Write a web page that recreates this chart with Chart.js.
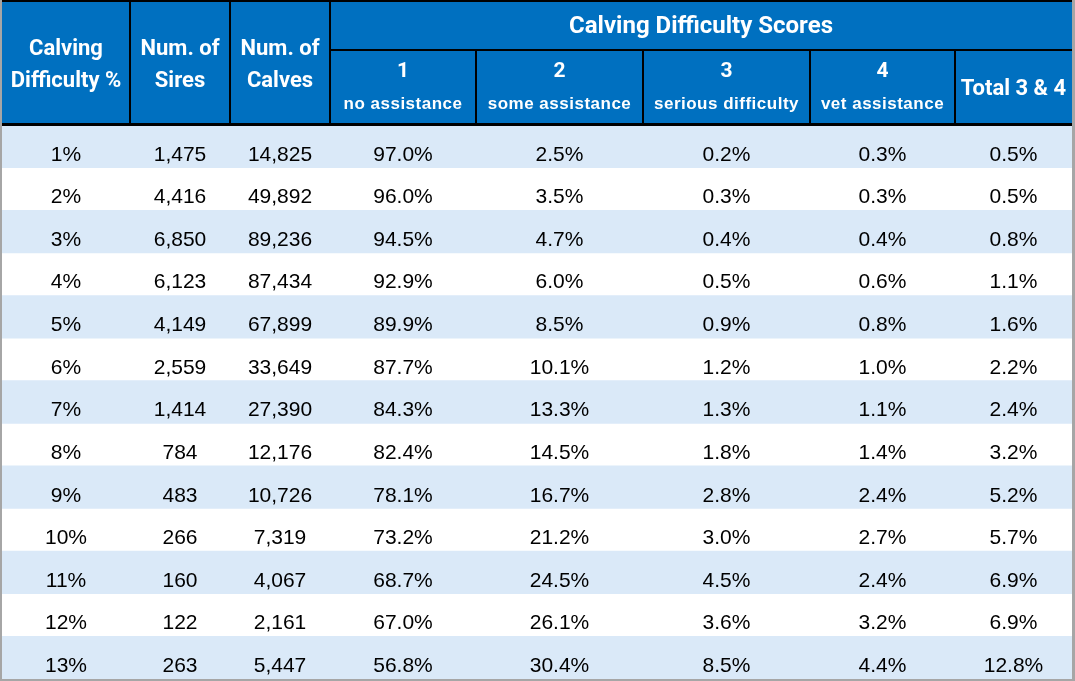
<!DOCTYPE html>
<html>
<head>
<meta charset="utf-8">
<script src="https://cdn.jsdelivr.net/npm/chart.js@4.4.1/dist/chart.umd.min.js"></script>
<style>
  html, body { margin: 0; padding: 0; background: #fff; }
  #wrap { width: 1075px; height: 681px; position: relative; }
</style>
</head>
<body>
<div id="wrap"><canvas id="tabla"></canvas></div>
<script>
// Datos de la tabla
const difficulty = ['1%', '2%', '3%', '4%', '5%', '6%', '7%', '8%', '9%', '10%', '11%', '12%', '13%'];
const sires = [1475, 4416, 6850, 6123, 4149, 2559, 1414, 784, 483, 266, 160, 122, 263];
const calves = [14825, 49892, 89236, 87434, 67899, 33649, 27390, 12176, 10726, 7319, 4067, 2161, 5447];
const score1 = [97.0, 96.0, 94.5, 92.9, 89.9, 87.7, 84.3, 82.4, 78.1, 73.2, 68.7, 67.0, 56.8];
const score2 = [2.5, 3.5, 4.7, 6.0, 8.5, 10.1, 13.3, 14.5, 16.7, 21.2, 24.5, 26.1, 30.4];
const score3 = [0.2, 0.3, 0.4, 0.5, 0.9, 1.2, 1.3, 1.8, 2.8, 3.0, 4.5, 3.6, 8.5];
const score4 = [0.3, 0.3, 0.4, 0.6, 0.8, 1.0, 1.1, 1.4, 2.4, 2.7, 2.4, 3.2, 4.4];
const total34 = [0.5, 0.5, 0.8, 1.1, 1.6, 2.2, 2.4, 3.2, 5.2, 5.7, 6.9, 6.9, 12.8];

// Textos de cabecera
const headerLeft = [['Calving', 'Difficulty %'], ['Num. of', 'Sires'], ['Num. of', 'Calves']];
const groupTitle = 'Calving Difficulty Scores';
const scoreCodes = ['1', '2', '3', '4'];
const scoreNames = ['no assistance', 'some assistance', 'serious difficulty', 'vet assistance'];
const totalLabel = 'Total 3 & 4';

// Anchos de columna (layout)
const colWidths = [128, 100, 100, 146, 167, 167, 145, 117];
const colEdges = colWidths.reduce((acc, w) => { acc.push(acc[acc.length - 1] + w); return acc; }, [0]);
const totalWidth = colEdges[colEdges.length - 1];

const HEADER_BLUE = '#0070C0';
const BAND_BLUE = '#DAE9F8';

const fmtInt = v => v.toLocaleString('en-US');
const fmtPct = v => v.toFixed(1) + '%';

const columns = [
    difficulty,
    sires.map(fmtInt),
    calves.map(fmtInt),
    score1.map(fmtPct),
    score2.map(fmtPct),
    score3.map(fmtPct),
    score4.map(fmtPct),
    total34.map(fmtPct)
];

// Plugin para fondo, cabecera y texto de las celdas
const tablaPlugin = {
    id: 'tabla',
    beforeDraw(chart) {
        const ctx = chart.ctx;
        const { width, height } = chart;
        ctx.save();
        ctx.fillStyle = '#A6A6A6';
        ctx.fillRect(0, 0, width, height);
        ctx.fillStyle = '#ffffff';
        ctx.fillRect(2, 0, width - 5, height - 2);
        ctx.restore();
    },
    afterDatasetsDraw(chart) {
        const ctx = chart.ctx;
        const x = chart.scales.x;
        const y = chart.scales.y;
        const area = chart.chartArea;
        const px = v => x.getPixelForValue(v);
        const center = c => px(colEdges[c] + colWidths[c] / 2);

        ctx.save();
        // fondo cabecera
        ctx.fillStyle = HEADER_BLUE;
        ctx.fillRect(area.left, 0, area.right - area.left, area.top);

        // lineas cabecera
        ctx.fillStyle = '#000000';
        ctx.fillRect(area.left, 0, area.right - area.left, 2);
        ctx.fillRect(area.left, area.top - 2, area.right - area.left, 3);
        ctx.fillRect(px(colEdges[3]) - 1, 49, area.right - px(colEdges[3]) + 1, 2);
        for (let c = 1; c < colEdges.length - 1; c++) {
            const top = c <= 3 ? 0 : 49;
            ctx.fillRect(px(colEdges[c]) - 1, top, 2, area.top - top + 1);
        }

        // textos cabecera
        ctx.fillStyle = '#ffffff';
        ctx.textAlign = 'center';
        ctx.textBaseline = 'alphabetic';
        ctx.font = 'bold 22px Roboto';
        headerLeft.forEach((lines, c) => {
            ctx.fillText(lines[0], center(c), 55);
            ctx.fillText(lines[1], center(c), 87);
        });
        ctx.font = 'bold 24px Roboto';
        ctx.fillText(groupTitle, px((colEdges[3] + totalWidth) / 2), 33);
        ctx.font = 'bold 22px Roboto';
        ctx.fillText(totalLabel, center(7), 95);
        scoreCodes.forEach((s, i) => {
            ctx.font = 'bold 21px Roboto';
            ctx.fillText(s, center(3 + i), 77);
        });
        ctx.letterSpacing = '0.5px';
        ctx.font = 'bold 17px "Liberation Sans"';
        scoreNames.forEach((s, i) => {
            ctx.fillText(s, center(3 + i), 109);
        });
        ctx.letterSpacing = '0px';

        // celdas de datos
        ctx.fillStyle = '#000000';
        ctx.font = '21px "Liberation Sans"';
        const band = (y.getPixelForValue(1) - y.getPixelForValue(0));
        difficulty.forEach((_, r) => {
            const base = y.getPixelForValue(r) + band / 2 - 7;
            columns.forEach((col, c) => {
                ctx.fillText(col[r], center(c), base);
            });
        });
        ctx.restore();
    }
};

document.addEventListener('DOMContentLoaded', function() {
    const ctxTabla = document.getElementById('tabla');
    new Chart(ctxTabla.getContext('2d'), {
        type: 'bar',
        data: {
            labels: difficulty,
            datasets: [{
                data: difficulty.map((_, i) => i % 2 === 0 ? totalWidth : null),
                backgroundColor: BAND_BLUE,
                borderWidth: 0,
                barPercentage: 1,
                categoryPercentage: 1
            }]
        },
        plugins: [tablaPlugin],
        options: {
            indexAxis: 'y',
            responsive: true,
            maintainAspectRatio: false,
            animation: false,
            layout: { padding: { top: 125, left: 2, right: 3, bottom: 2 } },
            plugins: { legend: { display: false }, tooltip: { enabled: false } },
            scales: {
                x: { type: 'linear', min: 0, max: totalWidth, display: false },
                y: { display: false, offset: true }
            }
        }
    });
});
</script>
</body>
</html>
